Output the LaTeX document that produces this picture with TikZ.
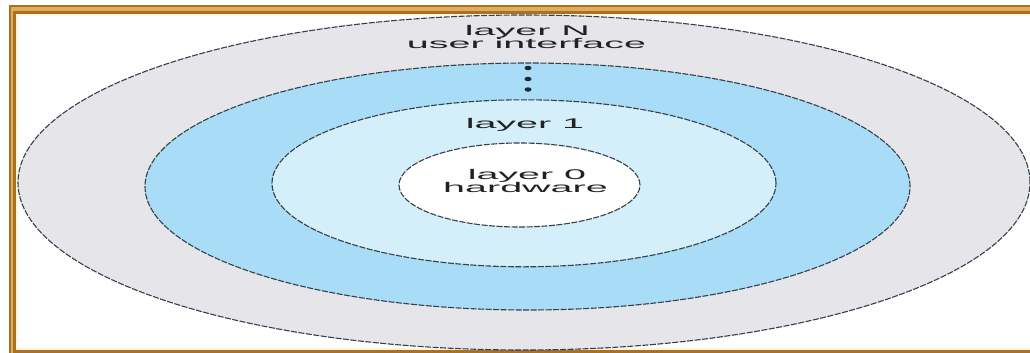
\documentclass[tikz,border=0pt]{standalone}
\usepackage{fontspec}
\setmainfont{Liberation Sans}
\usetikzlibrary{shapes.geometric}
\definecolor{ringgray}{HTML}{E6E6EA}
\definecolor{ringblue}{HTML}{A9DCF6}
\definecolor{ringlight}{HTML}{D4EEFA}
\definecolor{outline}{HTML}{34404A}
\definecolor{framebrown}{HTML}{A9702A}
\definecolor{framegold}{HTML}{E0AE58}
\definecolor{framecream}{HTML}{FFF5DD}
\definecolor{dotcol}{HTML}{1E2A33}
\definecolor{textcol}{HTML}{222222}
\begin{document}
\begin{tikzpicture}[x=1pt,y=-1pt,
 layerring/.style={ellipse, draw=outline, line width=1.1pt, dash pattern=on 6pt off 1.5pt, inner sep=0pt, outer sep=0pt},
 layertext/.style={font=\fontsize{14}{14}\selectfont, text=textcol, xscale=2.82, anchor=base, inner sep=0pt},
 dotmark/.style={ellipse, fill=dotcol, inner sep=0pt, minimum width=7pt, minimum height=4.5pt}]
\useasboundingbox (0,0) rectangle (1030,353);
\fill[white] (0,0) rectangle (1030,353);
\begin{scope}
\clip (0,0) rectangle (1030,353);
\fill[framegold] (10,6) rectangle (1060,380);
\fill[white] (14.5,13) rectangle (1040,351.5);
\draw[framebrown, line width=2.2pt] (10,6) rectangle (1060,380);
\draw[framebrown, line width=3pt] (14.5,13) rectangle (1040,351.5);
\draw[framecream, line width=1.5pt] (16.75,15.25) rectangle (1038,349);
\end{scope}
\node[layerring, fill=ringgray, minimum width=1012pt, minimum height=335pt] (ringN) at (524,182.5) {};
\node[layerring, fill=ringblue, minimum width=765pt, minimum height=247pt] (ring1out) at (527.5,186.5) {};
\node[layerring, fill=ringlight, minimum width=504pt, minimum height=167pt] (ring1in) at (524,183.3) {};
\node[layerring, fill=white, minimum width=241pt, minimum height=84pt] (ring0) at (519.5,185) {};
\node[layertext] (tN) at (527.5,35.3) {layer N};
\node[layertext] (tUI) at (526.5,48.7) {user interface};
\node[layertext] (t1) at (525,128) {layer 1};
\node[layertext] (t0) at (527,179.5) {layer 0};
\node[layertext] (thw) at (525.5,192.8) {hardware};
\node[dotmark] (d1) at (528,68) {};
\node[dotmark] (d2) at (528,79) {};
\node[dotmark] (d3) at (528,89.5) {};
\end{tikzpicture}
\end{document}
